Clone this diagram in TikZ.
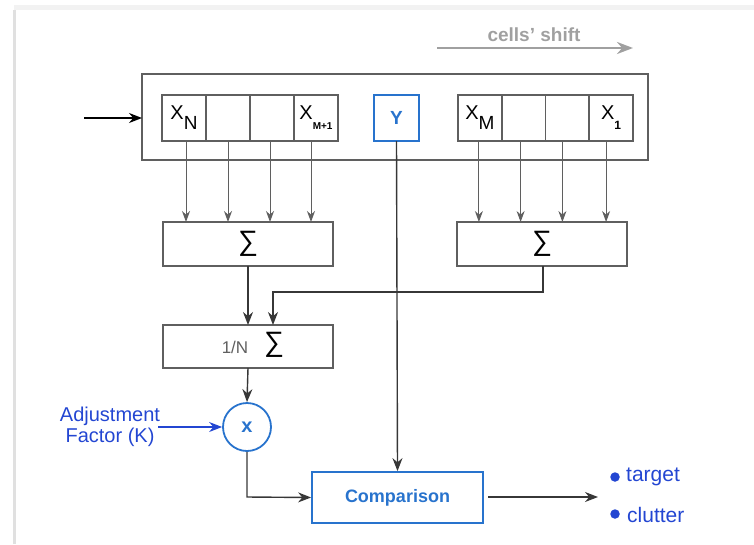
\documentclass[tikz,border=0pt]{standalone}
\usepackage{fontspec}
\setmainfont{Liberation Sans}
\newfontfamily\sigmafont{Liberation Sans}
\usetikzlibrary{arrows.meta,calc}
\definecolor{boxgray}{RGB}{95,95,95}
\definecolor{arrgray}{RGB}{55,55,55}
\definecolor{bblue}{RGB}{40,115,205}
\definecolor{tblue}{RGB}{35,70,210}
\definecolor{lgray}{RGB}{160,160,160}
\newcommand{\xlab}[2]{{\fontsize{20}{20}\selectfont X}\raisebox{-10pt}{#1#2}}
\begin{document}
\begin{tikzpicture}[x=1pt,y=-1pt,
  cell/.style={draw=boxgray,line width=1.6pt,minimum height=46pt,inner sep=0pt,outer sep=0pt},
  sumbox/.style={draw=boxgray,line width=1.6pt,minimum width=170pt,minimum height=44pt,inner sep=0pt,outer sep=0pt},
  arr/.style={draw=arrgray,line width=1.4pt,-{Stealth[length=13pt,width=10pt]}},
  sarr/.style={draw=boxgray,line width=1pt,-{Stealth[length=11pt,width=8pt]}},
  sigma/.style={font=\sigmafont\fontsize{28}{28}\selectfont},
  bullet/.style={circle,fill=tblue,minimum size=9.5pt,inner sep=0pt},
  outtext/.style={text=tblue,font=\fontsize{21}{21}\selectfont,anchor=west,inner sep=0pt}
]
\useasboundingbox (0,0) rectangle (754,544);
% faint panel shadow
\draw[black!5,line width=5pt] (14,7) -- (754,7);
\draw[black!12,line width=3pt] (14.5,10) -- (14.5,544);

% cells' shift
\node[text=lgray,font=\bfseries\fontsize{19}{19}\selectfont] (shift) at (534,35) {cells' shift};
\coordinate (sa) at (437,48);
\coordinate (sb) at (633,48);
\draw[lgray,line width=2.8pt,-{Stealth[length=16pt,width=12pt]}] (sa) -- (sb);

% outer frame
\node[draw=boxgray,line width=1.6pt,minimum width=506pt,minimum height=86pt,inner sep=0pt,outer sep=0pt] (frame) at (395,117) {};
\coordinate (in) at (84,118);
\draw[arr,draw=black] (in) -- (in -| frame.west);

% left cells
\node[cell,minimum width=44pt] (l1) at (184,118) {\xlab{\fontsize{19}{19}\selectfont}{N}};
\node[cell,minimum width=44pt] (l2) at (228,118) {};
\node[cell,minimum width=44pt] (l3) at (272,118) {};
\node[cell,minimum width=44pt] (l4) at (316,118) {\xlab{\fontsize{10}{10}\selectfont\bfseries}{M+1}};
% Y
\node[cell,draw=bblue,minimum width=45pt,text=bblue,font=\bfseries\fontsize{19}{19}\selectfont] (Y) at (396.5,118) {Y};
% right cells
\node[cell,minimum width=43.75pt] (r1) at (479.9,118) {\xlab{\fontsize{19}{19}\selectfont}{M}};
\node[cell,minimum width=43.75pt] (r2) at (523.6,118) {};
\node[cell,minimum width=43.75pt] (r3) at (567.4,118) {};
\node[cell,minimum width=43.75pt] (r4) at (611.1,118) {\xlab{\fontsize{12}{12}\selectfont\bfseries}{1}};

% sum boxes
\node[sumbox] (sumL) at (248,244) {\sigmafont\fontsize{28}{28}\selectfont ∑};
\node[sumbox] (sumR) at (542,244) {\sigmafont\fontsize{28}{28}\selectfont ∑};
\node[sumbox,minimum height=43pt] (sumN) at (248,346.5) {};
\node[text=boxgray,font=\fontsize{17}{17}\selectfont] (oneN) at (235,347) {1/N};
\node[sigma] (sigN) at (274,345) {∑};

\foreach \c/\dx in {l1/2,l2/0,l3/-2,l4/-5,r1/-1,r2/-3,r3/-5,r4/-5}{
  \draw[sarr] ([xshift=\dx pt]\c.south) -- ([xshift=\dx pt]\c.south |- sumL.north);
}

% multiplier
\node[circle,draw=bblue,line width=1.8pt,minimum size=48pt,inner sep=0pt,text=bblue,font=\bfseries\fontsize{20}{20}\selectfont] (mul) at (247,427) {x};
\node[text=tblue,align=center,font=\fontsize{20}{21}\selectfont,inner sep=0pt] (adj) at (110,427) {Adjustment\\Factor (K)};

% comparison
\node[draw=bblue,line width=1.8pt,minimum width=171pt,minimum height=51pt,inner sep=0pt,text=bblue,font=\bfseries\fontsize{18}{18}\selectfont] (comp) at (397.5,497.5) {Comparison};

% outputs
\node[bullet] (b1) at (615,477) {};
\node[bullet] (b2) at (615,514) {};
\node[outtext] (tgt) at (626,477) {target};
\node[outtext] (clu) at (627,515) {clutter};

% connectors
\draw[arr] (Y.south) -- (comp.north);
\draw[arr] (sumL.south) -- (sumN.north);
\coordinate (rk1) at (543,292);
\coordinate (rk2) at (273,292);
\draw[arr] (sumR.south -| rk1) -- (rk1) -- (rk2) -- (rk2 |- sumN.north);
\draw[arr] (sumN.south) -- (mul.north);
\coordinate (as) at (158,427);
\draw[draw=tblue,line width=1.2pt,-{Stealth[length=13pt,width=10pt]}] (as) -- (mul.west);
\coordinate (mk) at (247,497);
\draw[arr] (mul.south) -- (mk) -- (comp.west);
\coordinate (os) at (488,497);
\coordinate (out) at (598,497);
\draw[arr] (os) -- (out);
\end{tikzpicture}
\end{document}
